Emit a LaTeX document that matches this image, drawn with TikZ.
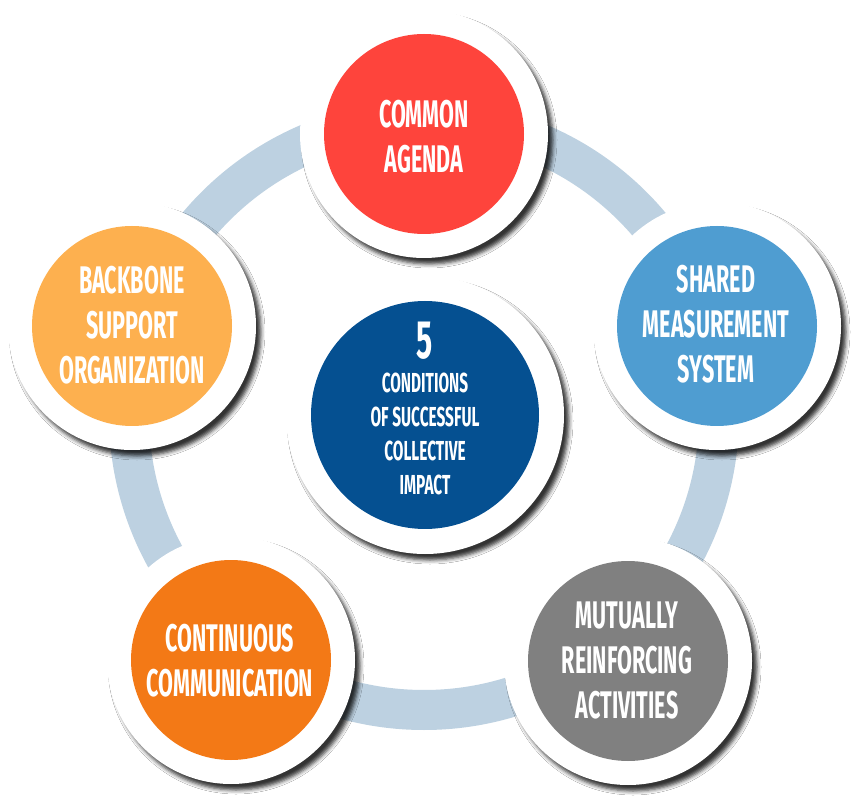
\documentclass[tikz,border=0pt]{standalone}
\usepackage{fontspec}
\newfontfamily\condfont{Fira Sans}[FakeStretch=0.56]
\usetikzlibrary{shadows.blur}
\definecolor{cRed}{RGB}{254,68,60}
\definecolor{cShared}{RGB}{79,157,209}
\definecolor{cBackbone}{RGB}{253,176,79}
\definecolor{cGray}{RGB}{128,128,128}
\definecolor{cOrange}{RGB}{243,121,22}
\definecolor{cCenter}{RGB}{5,80,145}
\definecolor{cRing}{RGB}{189,209,225}
\begin{document}
\begin{tikzpicture}[x=1pt,y=-1pt,
  ring/.style={draw=cRing, line width=40pt},
  whitedisk/.style={circle, fill=white, inner sep=0pt, minimum size=#1,
    blur shadow={shadow xshift=5pt, shadow yshift=-6pt, shadow blur radius=4pt, shadow opacity=80}},
  whitedisk/.default=248pt,
  disk/.style={circle, fill=#1, inner sep=0pt, minimum size=200pt},
  lbl/.style={text=white, align=center, inner sep=0pt,
    font=\condfont\bfseries\fontsize{38.5}{45}\selectfont},
  clbl/.style={text=white, align=center, inner sep=0pt,
    font=\condfont\bfseries\fontsize{27.5}{34}\selectfont}]
\useasboundingbox[fill=white] (0,0) rectangle (860,799);
\coordinate (hub) at (424,415);
\draw[ring] (hub) circle [radius=295];
% top
\node[whitedisk] (agendaW) at (424,134) {};
\node[disk=cRed] (agenda) at (agendaW.center) {};
\node[lbl] (agendaT) at (424,137) {COMMON\\AGENDA};
% right
\node[whitedisk] (sharedW) at (717,326) {};
\node[disk=cShared] (shared) at (sharedW.center) {};
\node[lbl] (sharedT) at (716,324) {SHARED\\MEASUREMENT\\SYSTEM};
% left
\node[whitedisk] (backboneW) at (132,326) {};
\node[disk=cBackbone] (backbone) at (backboneW.center) {};
\node[lbl] (backboneT) at (132,325) {BACKBONE\\SUPPORT\\ORGANIZATION};
% lower right
\node[whitedisk] (mutualW) at (628,661) {};
\node[disk=cGray] (mutual) at (mutualW.center) {};
\node[lbl] (mutualT) at (627,660.5) {MUTUALLY\\REINFORCING\\ACTIVITIES};
% lower left
\node[whitedisk] (contW) at (231,660) {};
\node[disk=cOrange] (cont) at (contW.center) {};
\node[lbl] (contT) at (230,661) {CONTINUOUS\\COMMUNICATION};
% centre
\node[whitedisk=278pt] (centerW) at (425,415) {};
\node[circle, fill=cCenter, inner sep=0pt, minimum size=228pt] (center) at (centerW.center) {};
\node[clbl] (centerT) at (425,408) {{\fontsize{54}{34}\selectfont 5}\\CONDITIONS\\OF SUCCESSFUL\\COLLECTIVE\\IMPACT};
\end{tikzpicture}
\end{document}
